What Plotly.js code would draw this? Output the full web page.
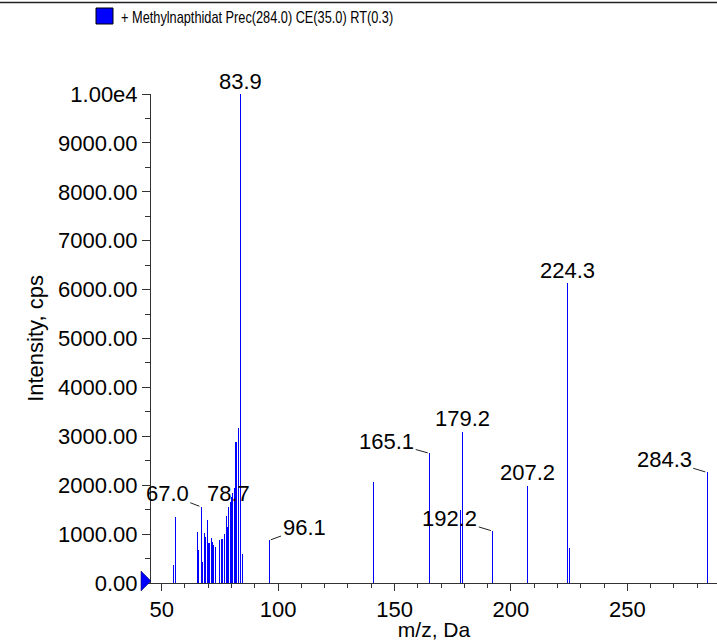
<!DOCTYPE html>
<html><head><meta charset="utf-8">
<script src="https://cdn.plot.ly/plotly-3.0.1.min.js"></script>
<style>html,body{margin:0;padding:0;background:#fff}</style>
</head><body>
<div id="chart" style="width:717px;height:641px"></div>
<script>
// ---- data ----
const mz = [55.0, 56.0, 65.3, 65.9, 67.0, 67.6, 68.2, 68.7, 69.8, 70.3, 70.7, 71.3, 71.9, 72.4, 73.0,
            74.8, 75.5, 76.2, 77.0, 77.8, 78.3, 78.7, 79.5, 80.0, 80.6, 81.2, 81.9, 82.8, 83.9, 84.9,
            96.1, 141.1, 165.1, 178.3, 179.2, 192.2, 207.2, 224.3, 225.0, 284.3];
const intensity = [360, 1360, 1035, 670, 1555, 420, 1030, 940, 1280, 820, 610, 925, 830, 770, 740,
                   870, 895, 895, 1005, 1365, 1145, 1560, 1650, 1750, 1850, 1940, 2885, 3160, 10000, 600,
                   870, 2070, 2650, 1500, 3090, 1060, 1990, 6130, 720, 2260];
const peakLabels = ['67.0', '78.7', '83.9', '96.1', '165.1', '179.2', '192.2', '207.2', '224.3', '284.3'];
const xTickVals = [50, 100, 150, 200, 250];
const yTickVals = [0, 1000, 2000, 3000, 4000, 5000, 6000, 7000, 8000, 9000, 10000];
const yTickText = ['0.00', '1000.00', '2000.00', '3000.00', '4000.00', '5000.00', '6000.00',
                   '7000.00', '8000.00', '9000.00', '1.00e4'];
const legendText = '+ Methylnapthidat Prec(284.0) CE(35.0) RT(0.3)';
const xTitle = 'm/z, Da';
const yTitle = 'Intensity, cps';

// ---- label placement (pixel offsets of leader-line labels) ----
const leaderOffset = {'67.0': [-34, -13], '96.1': [35, -13], '165.1': [-43, -12],
                      '192.2': [-43, -13], '284.3': [-43, -13]};

const FONT = 'Arial, "Liberation Sans", sans-serif';
const LEG_SIZE = 17, LEG_SQUEEZE = 0.75;

const W = 717, H = 641, ML = 151, MR = 0, MT = 94, MB = 58;
const PW = W - ML - MR, PH = H - MT - MB;
const px2x = p => (p - ML) / PW;
const py2y = p => 1 + (MT - p) / PH;

const annotations = peakLabels.map(t => {
  const m = parseFloat(t);
  const i = mz.findIndex(v => Math.abs(v - m) < 0.05);
  const off = leaderOffset[t];
  const base = {x: m, y: intensity[i], xref: 'x', yref: 'y', text: t,
                font: {family: FONT, size: 22, color: '#000'}};
  if (off) return Object.assign(base, {showarrow: true, arrowhead: 0, arrowwidth: 1,
                 arrowcolor: '#222', ax: off[0], ay: off[1], standoff: 2});
  return Object.assign(base, {showarrow: false, yanchor: 'middle', yshift: 13});
});
annotations.push({xref: 'paper', yref: 'paper', x: px2x(119), y: py2y(17.5), xanchor: 'left',
  yanchor: 'middle', showarrow: false, text: legendText,
  font: {family: FONT, size: LEG_SIZE, color: '#000'}});

const shapes = [
  {type: 'line', xref: 'paper', yref: 'paper', x0: px2x(0), x1: 1, y0: py2y(2.5), y1: py2y(2.5),
   line: {color: '#222', width: 1.5}},
  {type: 'rect', xref: 'paper', yref: 'paper', x0: px2x(96), x1: px2x(113), y0: py2y(24), y1: py2y(8),
   fillcolor: '#0000ff', line: {color: '#000', width: 1}},
  {type: 'path', xref: 'paper', yref: 'paper', xsizemode: 'pixel', ysizemode: 'pixel', xanchor: 0, yanchor: 0,
   path: 'M-10,-8 L0,2 L-10,12 Z', fillcolor: '#0000ff', line: {color: '#000044', width: 0.5}}
];

const trace = {type: 'bar', x: mz, y: intensity, width: 0.45,
  marker: {color: '#0000ff', line: {width: 0}}, hoverinfo: 'x+y'};

const layout = {
  width: W, height: H, autosize: false,
  margin: {l: ML, r: MR, t: MT, b: MB, pad: 0},
  paper_bgcolor: '#fff', plot_bgcolor: '#fff',
  font: {family: FONT, size: 22, color: '#000'},
  showlegend: false, bargap: 0,
  xaxis: {range: [45.4, 288.5], showline: true, linecolor: '#333', linewidth: 1,
    ticks: 'outside', ticklen: 7, tickcolor: '#333', tickvals: xTickVals,
    tickfont: {family: FONT, size: 22, color: '#000'},
    minor: {dtick: 10, tick0: 0, ticks: 'outside', ticklen: 4, tickcolor: '#333'},
    showgrid: false, zeroline: false,
    title: {text: xTitle, font: {family: FONT, size: 21, color: '#000'}, standoff: 5}},
  yaxis: {range: [0, 10000], showline: true, linecolor: '#333', linewidth: 1,
    ticks: 'outside', ticklen: 8, tickcolor: '#333', tickvals: yTickVals, ticktext: yTickText,
    tickfont: {family: FONT, size: 22, color: '#000'},
    minor: {dtick: 500, tick0: 0, ticks: 'outside', ticklen: 5, tickcolor: '#333'},
    showgrid: false, zeroline: false,
    title: {text: yTitle, font: {family: FONT, size: 22, color: '#000'}, standoff: 8}},
  annotations: annotations,
  shapes: shapes
};

Plotly.newPlot('chart', [trace], layout, {staticPlot: true, displayModeBar: false}).then(gd => {
  // the reference's legend line uses a condensed face: squeeze it horizontally
  gd.querySelectorAll('text.annotation-text').forEach(el => {
    if (el.textContent === legendText) {
      const bb = el.getBBox();
      el.setAttribute('transform', `translate(${bb.x * (1 - LEG_SQUEEZE)},0) scale(${LEG_SQUEEZE},1)`);
    }
  });
});
</script>
</body></html>
